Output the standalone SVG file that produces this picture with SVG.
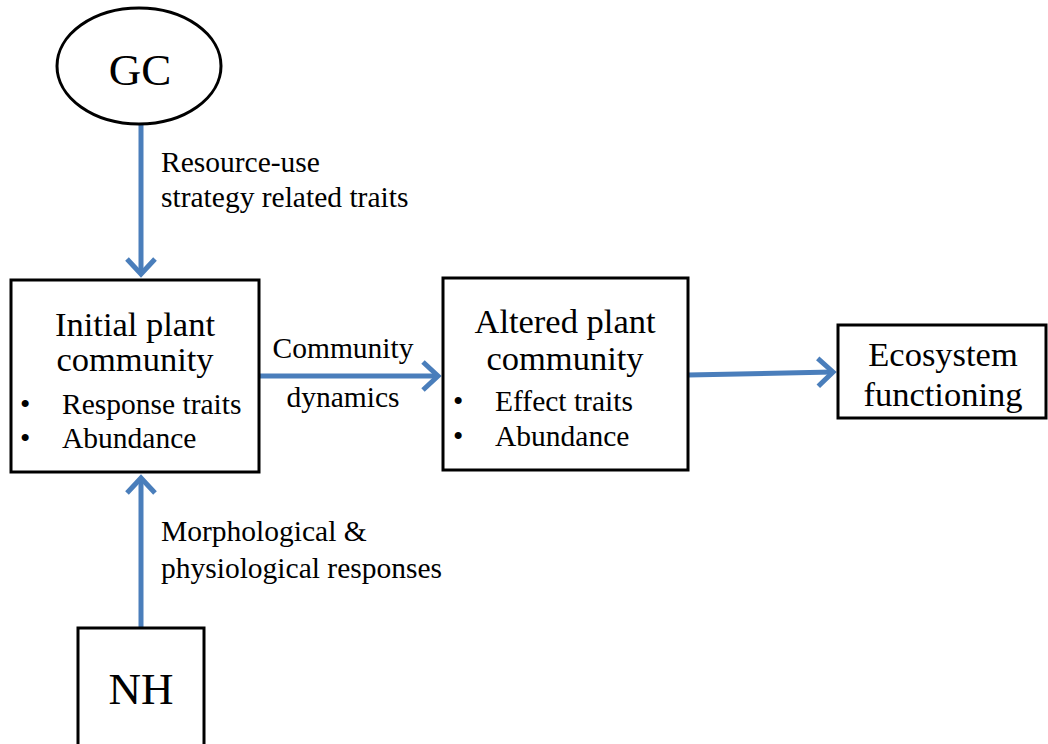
<svg xmlns="http://www.w3.org/2000/svg" width="1048" height="744" viewBox="0 0 1048 744">
<style>
.box{fill:#fff;stroke:#000;stroke-width:3}
.t{font-family:"Liberation Serif","Times New Roman",serif;fill:#000}
.big{font-size:45px}
.h{font-size:34.5px}
.b{font-size:29.5px}
.lbl{font-size:29.5px}
.conn{stroke:#4A7EBB;stroke-width:5;fill:none}
</style>
<defs>
<marker id="ah" markerUnits="userSpaceOnUse" viewBox="-22 -20 26 40" refX="0" refY="0" markerWidth="26" markerHeight="40" orient="auto" overflow="visible">
<path d="M-15,-14 L0,0 L-15,14" fill="none" stroke="#4A7EBB" stroke-width="5" stroke-linejoin="miter"/>
</marker>
</defs>
<rect width="1048" height="744" fill="#fff"/>
<g id="connectors">
<line class="conn" x1="141" y1="125" x2="141" y2="274" marker-end="url(#ah)"/>
<line class="conn" x1="141" y1="628" x2="141" y2="478" marker-end="url(#ah)"/>
<line class="conn" x1="259" y1="376" x2="438" y2="376" marker-end="url(#ah)"/>
<line class="conn" x1="688" y1="375" x2="833" y2="372" marker-end="url(#ah)"/>
<text class="t lbl" x="161" y="172">Resource-use</text>
<text class="t lbl" x="161" y="207">strategy related traits</text>
<text class="t lbl" x="343" y="358" text-anchor="middle">Community</text>
<text class="t lbl" x="343" y="407" text-anchor="middle">dynamics</text>
<text class="t lbl" x="161" y="541">Morphological &amp;</text>
<text class="t lbl" x="161" y="578">physiological responses</text>
</g>
<g id="gc">
<ellipse cx="139" cy="66" rx="82" ry="58" fill="#fff" stroke="#000" stroke-width="3"/>
<text class="t big" x="140" y="85" text-anchor="middle">GC</text>
</g>
<g id="initial">
<rect class="box" x="11" y="280" width="248" height="192"/>
<text class="t h" x="135" y="336" text-anchor="middle">Initial plant</text>
<text class="t h" x="135" y="371" text-anchor="middle">community</text>
<text class="t b" x="20" y="414">•</text>
<text class="t b" x="62" y="414">Response traits</text>
<text class="t b" x="20" y="448">•</text>
<text class="t b" x="62" y="448">Abundance</text>
</g>
<g id="altered">
<rect class="box" x="443" y="278" width="245" height="192"/>
<text class="t h" x="565" y="333" text-anchor="middle">Altered plant</text>
<text class="t h" x="565" y="370" text-anchor="middle">community</text>
<text class="t b" x="453" y="411">•</text>
<text class="t b" x="495" y="411">Effect traits</text>
<text class="t b" x="453" y="446">•</text>
<text class="t b" x="495" y="446">Abundance</text>
</g>
<g id="ecosystem">
<rect class="box" x="838" y="325" width="208" height="93"/>
<text class="t h" x="943" y="366" text-anchor="middle">Ecosystem</text>
<text class="t h" x="943" y="406" text-anchor="middle">functioning</text>
</g>
<g id="nh">
<rect class="box" x="78" y="628" width="126" height="120"/>
<text class="t big" x="141" y="704" text-anchor="middle">NH</text>
</g>
</svg>
